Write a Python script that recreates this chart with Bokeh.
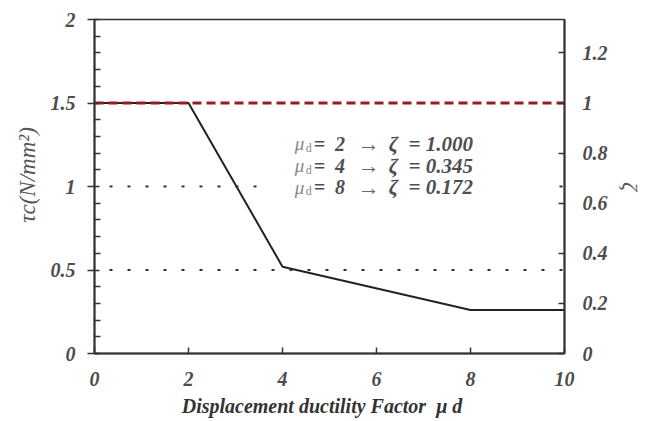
import math
from bokeh.plotting import figure
from bokeh.models import (Range1d, LinearAxis, FixedTicker, Span, Label, BoxAnnotation)
from bokeh.embed import file_html
from bokeh.resources import INLINE

# ---- data ----
x_vals = [0, 2, 4, 8, 10]
tau_vals = [1.5, 1.5, 0.52, 0.26, 0.26]
zeta_x = [0, 10]
zeta_ref = [1.0, 1.0]
ref_levels = [0.5, 1.0]
mu_d = [2, 4, 8]
zeta_vals = ["1.000", "0.345", "0.172"]
x_ticks = [0, 2, 4, 6, 8, 10]
left_ticks = [0, 0.5, 1, 1.5, 2]
left_labels = ["0", "0.5", "1", "1.5", "2"]
left_minor = [0.1, 0.2, 0.3, 0.4, 0.6, 0.7, 0.8, 0.9, 1.1, 1.2, 1.3, 1.4, 1.6, 1.7, 1.8, 1.9]
right_ticks = [0, 0.2, 0.4, 0.6, 0.8, 1.0, 1.2]
right_labels = ["0", "0.2", "0.4", "0.6", "0.8", "1", "1.2"]

FONT = "Liberation Serif"
TICK_COLOR = "#4d4d4d"
AXIS_COLOR = "#333333"

p = figure(width=652, height=421, output_backend="svg", toolbar_location=None,
           x_range=Range1d(0, 10), y_range=Range1d(0, 2),
           min_border_left=94, min_border_right=88, min_border_top=19, min_border_bottom=68)
p.extra_y_ranges = {"zeta": Range1d(0, 4.0 / 3.0)}
p.xgrid.visible = False
p.ygrid.visible = False
p.outline_line_color = AXIS_COLOR
p.outline_line_width = 1.5
p.background_fill_color = "white"
p.border_fill_color = "white"

def style_axis(ax):
    ax.axis_line_color = AXIS_COLOR
    ax.axis_line_width = 2
    ax.major_tick_line_color = AXIS_COLOR
    ax.major_tick_line_width = 1.5
    ax.minor_tick_line_color = AXIS_COLOR
    ax.minor_tick_line_width = 1.5
    ax.major_label_text_font = FONT
    ax.major_label_text_font_style = "bold italic"
    ax.major_label_text_font_size = "20px"
    ax.major_label_text_color = TICK_COLOR
    ax.axis_label_text_font = FONT
    ax.axis_label_text_font_style = "italic"
    ax.axis_label_text_font_size = "21px"
    ax.axis_label_text_color = "#444444"

# x axis
xa = p.xaxis[0]
style_axis(xa)
xa.ticker = FixedTicker(ticks=x_ticks)
xa.major_tick_in = 6
xa.major_tick_out = 0
xa.minor_tick_in = 0
xa.minor_tick_out = 0
xa.major_label_standoff = 18
xa.major_label_overrides = {t: str(t) for t in x_ticks}
xa.axis_label = "Displacement ductility Factor \u00a0\u03bc d\u00a0\u00a0\u00a0"
xa.axis_label_text_font_style = "bold italic"
xa.axis_label_text_font_size = "20px"
xa.axis_label_text_color = "#333333"
xa.axis_label_standoff = 6

# left axis
ya = p.yaxis[0]
style_axis(ya)
ya.ticker = FixedTicker(ticks=left_ticks, minor_ticks=left_minor)
ya.major_tick_in = 5
ya.major_tick_out = 7
ya.minor_tick_in = 6
ya.minor_tick_out = 0
ya.major_label_standoff = 12
ya.major_label_overrides = dict(zip(left_ticks, left_labels))
ya.axis_label = "\u00a0\u00a0\u00a0\u00a0\u03c4c(N/mm\u00b2)"
ya.axis_label_text_font_size = "23px"
ya.axis_label_text_color = "#555555"
ya.axis_label_standoff = 8

# right axis
ra = LinearAxis(y_range_name="zeta")
style_axis(ra)
ra.ticker = FixedTicker(ticks=right_ticks)
ra.major_tick_in = 6
ra.major_tick_out = 0
ra.minor_tick_in = 0
ra.minor_tick_out = 0
ra.major_label_standoff = 18
ra.major_label_overrides = dict(zip(right_ticks, right_labels))
ra.axis_label = "\u03b6"
ra.axis_label_text_font_size = "22px"
ra.axis_label_text_color = "#555555"
ra.axis_label_standoff = 7
p.add_layout(ra, "right")

# reference dotted lines
for lv in ref_levels:
    p.add_layout(Span(location=lv, dimension="width", line_color="#333333",
                      line_width=2, line_dash="3 15", line_dash_offset=-15))

# curves
p.line(x_vals, tau_vals, line_color="#222222", line_width=2)
p.line(zeta_x, zeta_ref, y_range_name="zeta", line_color="#9b1c1c",
       line_width=2.8, line_dash="9 5")

# white box behind annotation text
p.add_layout(BoxAnnotation(left=3.7, right=9.6, bottom=0.94, top=1.34,
                           fill_color="white", fill_alpha=1.0, line_alpha=0))

# annotation lines
ann_color = "#4f4f4f"
ann_x = 4.26
for i, (m, z) in enumerate(zip(mu_d, zeta_vals)):
    yv = 1.255 - i * 0.13
    p.add_layout(Label(x=ann_x, y=yv, text="\u03bc", text_font=FONT, text_font_style="italic",
                       text_font_size="19px", text_color="#888888", text_baseline="middle"))
    p.add_layout(Label(x=ann_x, y=yv, x_offset=11, y_offset=-4, text="d", text_font=FONT,
                       text_font_size="12px", text_color="#888888", text_baseline="middle"))
    p.add_layout(Label(x=ann_x, y=yv, x_offset=19, text=f"= \u00a0{m}",
                       text_font=FONT, text_font_style="bold italic", text_font_size="20px",
                       text_color=ann_color, text_baseline="middle"))
    p.add_layout(Label(x=ann_x, y=yv, x_offset=63, text="\u2192",
                       text_font=FONT, text_font_size="22px",
                       text_color="#666666", text_baseline="middle"))
    p.add_layout(Label(x=ann_x, y=yv, x_offset=94, text=f"\u03b6 \u00a0= {z}",
                       text_font=FONT, text_font_style="bold italic", text_font_size="21px",
                       text_color=ann_color, text_baseline="middle"))

open("out.html", "w").write(file_html(p, INLINE))
